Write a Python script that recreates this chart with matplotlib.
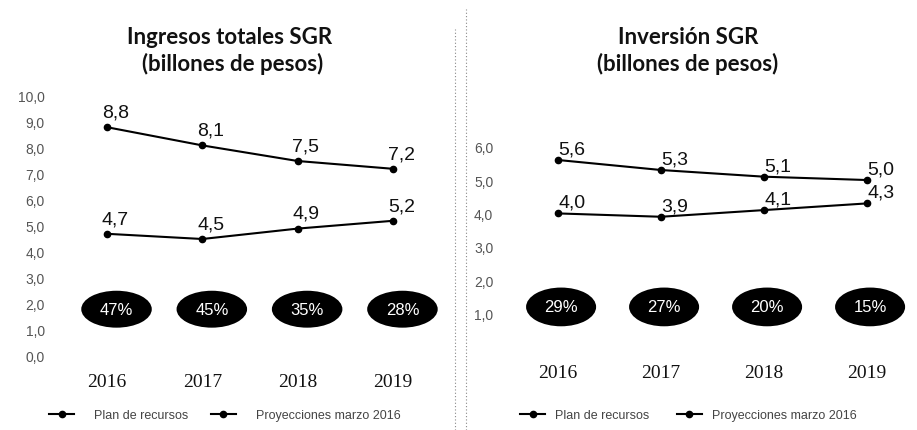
import matplotlib
matplotlib.use("Agg")
import matplotlib.pyplot as plt
from matplotlib.patches import Ellipse
from matplotlib.lines import Line2D

years = ["2016", "2017", "2018", "2019"]

# Panel 1: Ingresos totales SGR
ing_plan = [8.8, 8.1, 7.5, 7.2]
ing_proy = [4.7, 4.5, 4.9, 5.2]
ing_pct = ["47%", "45%", "35%", "28%"]
ing_ticks = [0, 1, 2, 3, 4, 5, 6, 7, 8, 9, 10]

# Panel 2: Inversión SGR
inv_plan = [5.6, 5.3, 5.1, 5.0]
inv_proy = [4.0, 3.9, 4.1, 4.3]
inv_pct = ["29%", "27%", "20%", "15%"]
inv_ticks = [1, 2, 3, 4, 5, 6]

series_names = ["Plan de recursos", "Proyecciones marzo 2016"]

W, H = 917, 431
fig = plt.figure(figsize=(W / 100, H / 100), dpi=100)
fig.patch.set_facecolor("white")

SANS = ["Liberation Sans", "DejaVu Sans"]
SERIF = ["Liberation Serif", "DejaVu Serif"]


def fmt(v):
    return f"{v:.1f}".replace(".", ",")


def panel(rect, plan, proy, pct, ticks, ylim, xlim, year_y, lab_off,
          ell_dx, ell_y, ell_w, ell_h, tick_pad):
    ax = fig.add_axes(rect)
    x = list(range(len(years)))
    ax.plot(x, plan, color="black", lw=1.5, marker="o", ms=4.5, zorder=3)
    ax.plot(x, proy, color="black", lw=1.5, marker="o", ms=4.5, zorder=3)
    for xi, v in zip(x, plan):
        ax.annotate(fmt(v), (xi, v), xytext=lab_off, textcoords="offset points",
                    ha="center", va="center", fontsize=14, family=SANS, color="#111")
    for xi, v in zip(x, proy):
        ax.annotate(fmt(v), (xi, v), xytext=lab_off, textcoords="offset points",
                    ha="center", va="center", fontsize=14, family=SANS, color="#111")
    for xi, p in zip(x, pct):
        ax.add_patch(Ellipse((xi + ell_dx, ell_y), ell_w, ell_h, facecolor="black",
                             edgecolor="none", zorder=2))
        ax.text(xi + ell_dx, ell_y, p, ha="center", va="center", color="white",
                fontsize=12, family=SANS, zorder=4)
    for xi, yr in zip(x, years):
        ax.text(xi, year_y, yr, ha="center", va="center", fontsize=14,
                family=SERIF, color="#111", clip_on=False)
    ax.set_xlim(*xlim)
    ax.set_ylim(*ylim)
    ax.set_xticks([])
    ax.set_yticks(ticks)
    ax.set_yticklabels([fmt(t) for t in ticks], fontsize=10, color="#555",
                       family=SANS)
    ax.tick_params(axis="y", length=0, pad=tick_pad)
    for s in ax.spines.values():
        s.set_visible(False)
    ax.patch.set_alpha(0)
    return ax


# left panel: x0 at 107px, 95.3px/unit; y 0 at 357px, 26px/unit
panel([49.8 / W, 1 - 357 / H, 400.3 / W, 260 / H], ing_plan, ing_proy, ing_pct,
      ing_ticks, (0, 10), (-0.6, 3.6), -1.0, (6, 11), 0.1, 1.8, 0.74, 1.42, 3.6)

# right panel: x0 at 558px, 103px/unit; y 0 at 348px, 33.4px/unit
panel([501.35 / W, 1 - 348 / H, 412 / W, 220.4 / H], inv_plan, inv_proy, inv_pct,
      inv_ticks, (0, 6.6), (-0.55, 3.45), -0.75, (10, 8), 0.03, 1.2, 0.68, 1.16, 5.8)

# titles
TF = ["Lato", "DejaVu Sans"]
fig.text(230 / W, 1 - 37 / H, "Ingresos totales SGR", ha="center", va="center",
         fontsize=16, fontweight="bold", family=TF, color="#111")
fig.text(233 / W, 1 - 64 / H, "(billones de pesos)", ha="center", va="center",
         fontsize=16, fontweight="bold", family=TF, color="#111")
fig.text(688 / W, 1 - 37 / H, "Inversión SGR", ha="center", va="center",
         fontsize=16, fontweight="bold", family=TF, color="#111")
fig.text(688 / W, 1 - 64 / H, "(billones de pesos)", ha="center", va="center",
         fontsize=16, fontweight="bold", family=TF, color="#111")

# dotted separators
fig.add_artist(Line2D([455 / W, 455 / W], [0, 1 - 30 / H], color="#888", lw=0.8,
                      ls=(0, (1, 2)), transform=fig.transFigure))
fig.add_artist(Line2D([466 / W, 466 / W], [0, 1 - 10 / H], color="#888", lw=0.8,
                      ls=(0, (1, 2)), transform=fig.transFigure))

# legends
handles = [Line2D([], [], color="black", lw=1.5, marker="o", ms=4.5) for _ in series_names]
for x0, tp, cs in [(49, 1.6, 1.8), (520, 0.8, 2.2)]:
    fig.legend(handles, series_names, loc="center left",
               bbox_to_anchor=(x0 / W, 1 - 416 / H), ncol=2, frameon=False,
               handlelength=2.0, handletextpad=tp, columnspacing=cs,
               borderpad=0, borderaxespad=0,
               prop={"family": SANS, "size": 9}, labelcolor="#444")

fig.savefig("out.png", dpi=100, facecolor="white")
